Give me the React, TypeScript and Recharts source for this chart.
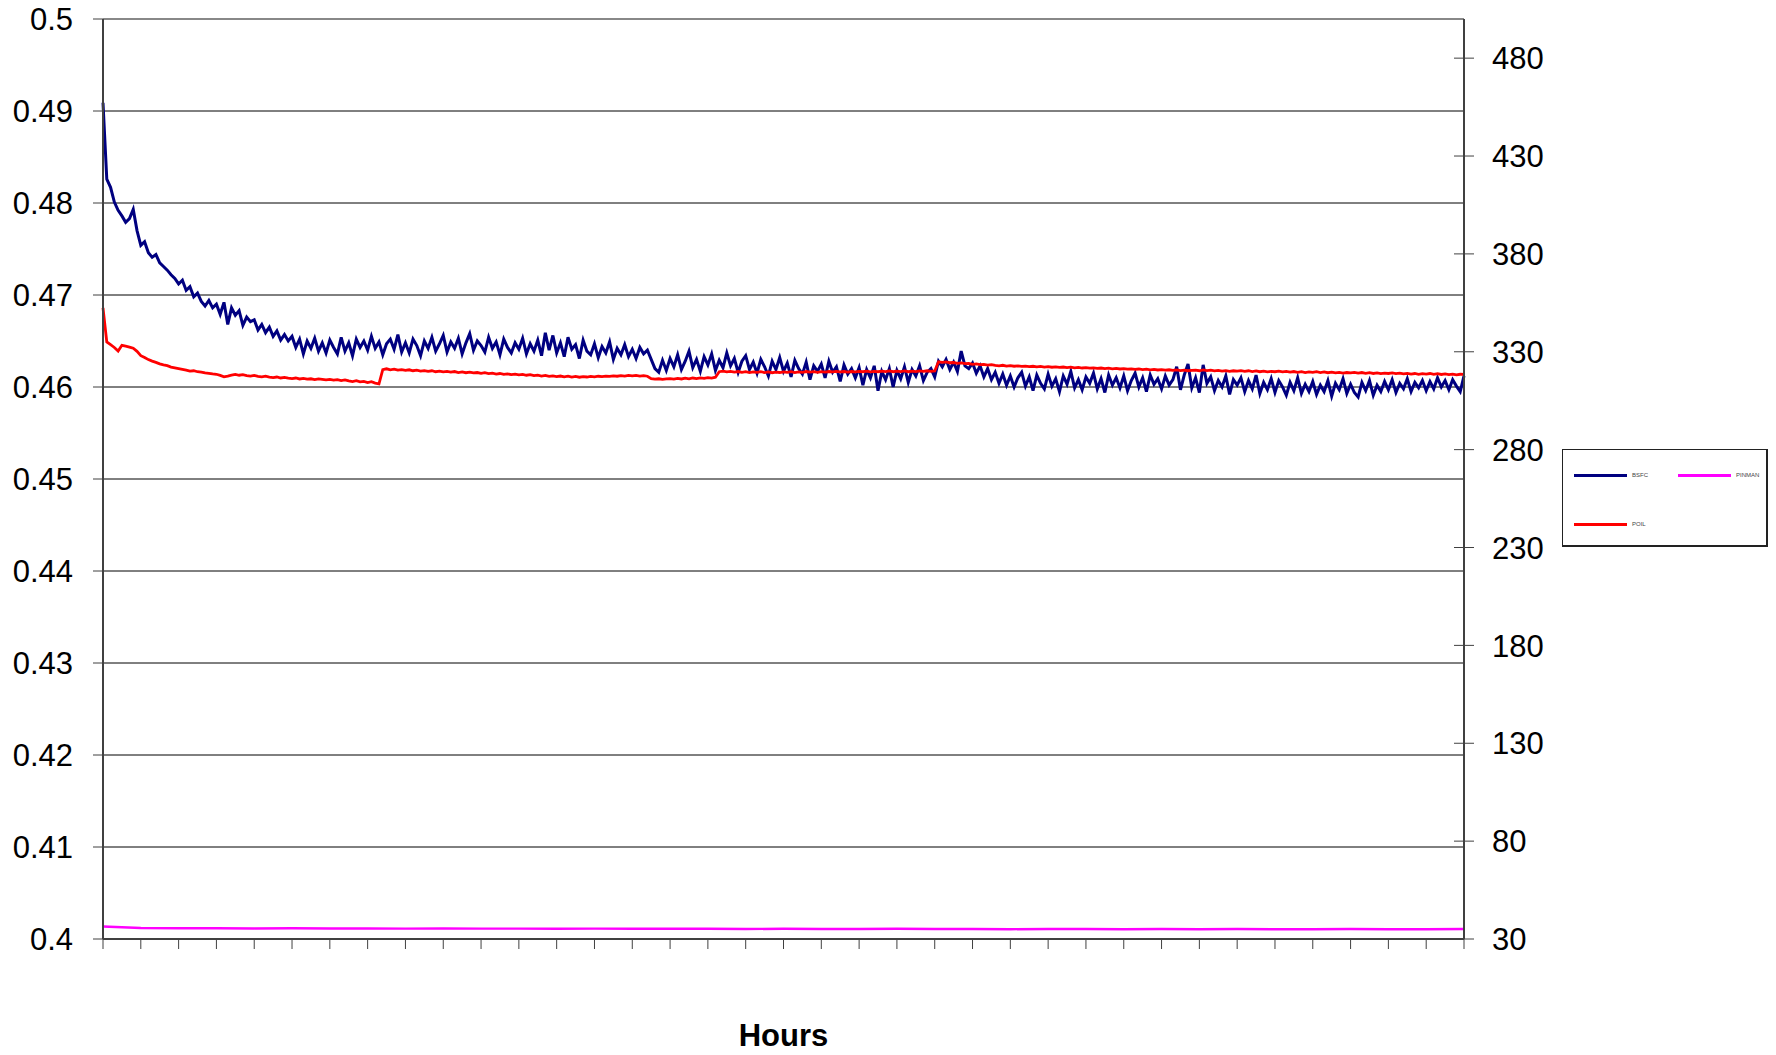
import React from 'react';
import { LineChart, Line, XAxis, YAxis, CartesianGrid, ReferenceLine, Label } from 'recharts';

// Hours 0..360, one reading per hour
const bsfc: number[] = [
  0.4909, 0.4826, 0.4817, 0.4801, 0.4792, 0.4786, 0.4779, 0.4783, 0.4793, 0.4770,
  0.4754, 0.4758, 0.4746, 0.4741, 0.4744, 0.4735, 0.4731, 0.4727, 0.4722, 0.4718,
  0.4712, 0.4716, 0.4705, 0.4709, 0.4698, 0.4702, 0.4693, 0.4688, 0.4694, 0.4686,
  0.4690, 0.4679, 0.4692, 0.4668, 0.4686, 0.4678, 0.4683, 0.4667, 0.4676, 0.4671,
  0.4673, 0.4662, 0.4668, 0.4659, 0.4665, 0.4655, 0.4661, 0.4651, 0.4657, 0.4650,
  0.4655, 0.4643, 0.4652, 0.4636, 0.4650, 0.4642, 0.4653, 0.4639, 0.4648, 0.4637,
  0.4651, 0.4643, 0.4636, 0.4654, 0.4639, 0.4648, 0.4634, 0.4652, 0.4643, 0.4650,
  0.4640, 0.4655, 0.4642, 0.4649, 0.4635, 0.4647, 0.4652, 0.4641, 0.4657, 0.4638,
  0.4648, 0.4637, 0.4652, 0.4645, 0.4634, 0.4650, 0.4642, 0.4654, 0.4639, 0.4647,
  0.4656, 0.4638, 0.4649, 0.4642, 0.4653, 0.4636, 0.4648, 0.4658, 0.4640, 0.4650,
  0.4645, 0.4638, 0.4654, 0.4642, 0.4649, 0.4635, 0.4652, 0.4643, 0.4637, 0.4648,
  0.4641, 0.4653, 0.4636, 0.4647, 0.4639, 0.4651, 0.4634, 0.4659, 0.4640, 0.4656,
  0.4637, 0.4648, 0.4633, 0.4654, 0.4641, 0.4646, 0.4631, 0.4651, 0.4639, 0.4635,
  0.4647, 0.4632, 0.4644, 0.4637, 0.4649, 0.4630, 0.4642, 0.4635, 0.4646, 0.4633,
  0.4641, 0.4631, 0.4643, 0.4636, 0.4640, 0.4630, 0.4620, 0.4616, 0.4629, 0.4618,
  0.4631, 0.4622, 0.4635, 0.4619, 0.4628, 0.4639, 0.4621, 0.4630, 0.4617, 0.4633,
  0.4624, 0.4636, 0.4618, 0.4629, 0.4621, 0.4637, 0.4623, 0.4631, 0.4616, 0.4628,
  0.4634, 0.4619, 0.4627, 0.4615, 0.4630, 0.4622, 0.4612, 0.4628, 0.4619, 0.4632,
  0.4617, 0.4626, 0.4611, 0.4629, 0.4620, 0.4614, 0.4627, 0.4608, 0.4623, 0.4617,
  0.4625, 0.4610, 0.4628, 0.4616, 0.4622, 0.4606, 0.4624, 0.4614, 0.4620, 0.4610,
  0.4621, 0.4602, 0.4619, 0.4610, 0.4623, 0.4596, 0.4617, 0.4608, 0.4620, 0.4600,
  0.4618, 0.4609, 0.4622, 0.4605, 0.4619, 0.4612, 0.4623, 0.4607, 0.4616, 0.4620,
  0.4611, 0.4628, 0.4622, 0.4630, 0.4619, 0.4627, 0.4617, 0.4639, 0.4623, 0.4620,
  0.4626, 0.4615, 0.4623, 0.4611, 0.4620, 0.4608, 0.4616, 0.4604, 0.4614, 0.4602,
  0.4612, 0.4600, 0.4610, 0.4616, 0.4601, 0.4611, 0.4596, 0.4613, 0.4604, 0.4598,
  0.4614, 0.4601, 0.4609, 0.4595, 0.4612, 0.4603, 0.4617, 0.4599, 0.4608, 0.4597,
  0.4611, 0.4604, 0.4615, 0.4598, 0.4609, 0.4594, 0.4613, 0.4602, 0.4610, 0.4599,
  0.4612, 0.4596, 0.4607, 0.4615, 0.4600, 0.4610, 0.4595, 0.4613, 0.4603, 0.4609,
  0.4598, 0.4612, 0.4602, 0.4608, 0.4622, 0.4597, 0.4613, 0.4625, 0.4599, 0.4610,
  0.4594, 0.4624, 0.4604, 0.4611, 0.4596, 0.4607, 0.4600, 0.4612, 0.4592, 0.4608,
  0.4602, 0.4610, 0.4595, 0.4607, 0.4598, 0.4613, 0.4593, 0.4605, 0.4597, 0.4609,
  0.4594, 0.4607, 0.4600, 0.4591, 0.4605, 0.4596, 0.4610, 0.4593, 0.4603, 0.4595,
  0.4606, 0.4592, 0.4602, 0.4595, 0.4607, 0.4590, 0.4604, 0.4597, 0.4609, 0.4593,
  0.4603, 0.4594, 0.4589, 0.4605, 0.4596, 0.4607, 0.4591, 0.4602, 0.4595, 0.4606,
  0.4597, 0.4608, 0.4594, 0.4604, 0.4598, 0.4609, 0.4595, 0.4605, 0.4599, 0.4607,
  0.4596, 0.4606, 0.4598, 0.4610, 0.4600, 0.4607, 0.4597, 0.4608, 0.4601, 0.4595,
  0.4612,
];

const poil: number[] = [
  352.4, 335.0, 333.6, 332.2, 330.4, 333.3, 332.9, 332.4, 331.8, 330.2,
  328.0, 327.1, 326.0, 325.2, 324.6, 323.8, 323.3, 322.9, 322.2, 321.8,
  321.4, 321.0, 320.6, 320.1, 320.3, 319.8, 319.6, 319.2, 319.0, 318.7,
  318.5, 317.9, 317.2, 317.6, 318.1, 318.4, 318.0, 318.3, 317.8, 317.6,
  317.9, 317.4, 317.2, 317.5, 317.0, 316.8, 317.1, 316.6, 316.9, 316.5,
  316.3, 316.6, 316.1, 316.4, 316.0, 316.2, 315.8, 316.1, 315.9, 315.6,
  315.9, 315.5, 315.8, 315.3, 315.6, 315.1, 314.8, 315.2, 314.6, 314.9,
  314.3, 314.7, 314.0, 313.6, 320.9, 321.3, 320.8, 321.1, 320.6, 320.9,
  320.5, 320.8, 320.3, 320.6, 320.1, 320.4, 320.0, 320.3, 319.8, 320.1,
  319.7, 320.0, 319.6, 319.9, 319.4, 319.7, 319.3, 319.6, 319.2, 319.4,
  319.0, 319.3, 318.8, 319.1, 318.6, 318.9, 318.5, 318.7, 318.3, 318.6,
  318.2, 318.4, 318.0, 318.3, 317.8, 318.1, 317.6, 317.9, 317.4, 317.7,
  317.3, 317.6, 317.2, 317.5, 317.1, 317.4, 317.0, 317.3, 317.1, 317.4,
  317.2, 317.5, 317.3, 317.6, 317.4, 317.7, 317.5, 317.8, 317.6, 317.9,
  317.7, 317.9, 317.6, 317.8, 317.5, 316.3, 316.0, 316.2, 315.9, 316.1,
  316.3, 316.0, 316.4, 316.1, 316.5, 316.2, 316.6, 316.3, 316.7, 316.4,
  316.8, 316.5, 317.0, 319.8, 320.1, 319.7, 320.0, 319.6, 319.9, 319.5,
  319.8, 319.4, 319.7, 319.5, 319.8, 319.4, 319.7, 319.3, 319.6, 319.4,
  319.7, 319.5, 319.8, 319.4, 319.7, 319.5, 319.9, 319.6, 319.8, 319.5,
  319.8, 319.6, 319.9, 319.7, 320.0, 319.7, 319.9, 319.6, 319.9, 319.7,
  320.0, 319.8, 320.1, 319.7, 320.0, 319.8, 320.1, 319.9, 320.2, 319.8,
  320.1, 319.9, 320.2, 319.8, 320.1, 319.9, 320.2, 320.0, 320.3, 320.0,
  320.2, 324.9, 324.6, 324.8, 324.4, 324.5, 324.1, 324.3, 323.9, 324.0,
  323.6, 323.8, 323.4, 323.6, 323.2, 323.4, 323.0, 322.8, 323.1, 322.7,
  322.9, 322.6, 322.8, 322.5, 322.7, 322.4, 322.6, 322.3, 322.5, 322.2,
  322.4, 322.1, 322.3, 322.0, 322.2, 321.9, 322.1, 321.8, 322.0, 321.7,
  321.9, 321.6, 321.8, 321.5, 321.7, 321.4, 321.6, 321.3, 321.5, 321.2,
  321.4, 321.1, 321.3, 321.0, 321.2, 320.9, 321.1, 320.8, 321.0, 320.7,
  320.9, 320.6, 320.8, 320.5, 320.7, 320.4, 320.6, 320.3, 320.5, 320.6,
  320.3, 320.7, 320.4, 320.6, 320.2, 320.5, 320.1, 320.4, 320.0, 320.3,
  320.1, 320.4, 320.0, 320.3, 319.9, 320.2, 319.8, 320.1, 319.7, 320.0,
  319.8, 320.1, 319.7, 320.0, 319.6, 319.9, 319.5, 319.8, 319.4, 319.7,
  319.5, 319.8, 319.4, 319.7, 319.3, 319.6, 319.2, 319.5, 319.1, 319.4,
  319.2, 319.5, 319.1, 319.4, 319.0, 319.3, 318.9, 319.2, 318.8, 319.1,
  318.9, 319.2, 318.8, 319.1, 318.7, 319.0, 318.6, 318.9, 318.5, 318.8,
  318.6, 318.9, 318.5, 318.8, 318.4, 318.7, 318.3, 318.6, 318.2, 318.5,
  318.4,
];

// PINMAN sampled every 10 hours
const pinman: number[] = [
  36.4, 35.6, 35.5, 35.5, 35.4, 35.5, 35.4, 35.4, 35.3, 35.4,
  35.3, 35.3, 35.2, 35.3, 35.2, 35.2, 35.2, 35.1, 35.2, 35.1,
  35.1, 35.2, 35.1, 35.1, 35.0, 35.1, 35.1, 35.0, 35.1, 35.0,
  35.1, 35.0, 35.0, 35.1, 35.0, 35.0, 35.1,
];

const xTicks: number[] = [
  0, 10, 20, 30, 40, 50, 60, 70, 80, 90, 100, 110, 120, 130, 140, 150, 160, 170, 180,
  190, 200, 210, 220, 230, 240, 250, 260, 270, 280, 290, 300, 310, 320, 330, 340, 350, 360,
];
const leftTicks: number[] = [0.4, 0.41, 0.42, 0.43, 0.44, 0.45, 0.46, 0.47, 0.48, 0.49, 0.5];
const leftTickLabels: string[] = ['0.4', '0.41', '0.42', '0.43', '0.44', '0.45', '0.46', '0.47', '0.48', '0.49', '0.5'];
const rightTicks: number[] = [30, 80, 130, 180, 230, 280, 330, 380, 430, 480];

const seriesNames = { bsfc: 'BSFC', pinman: 'PINMAN', poil: 'POIL' };
const colors = { bsfc: '#000080', pinman: '#FF00FF', poil: '#FF0000' };

const rows = bsfc.map((v, h) => ({
  h,
  bsfc: v,
  poil: poil[h],
  pinman: h % 10 === 0 ? pinman[h / 10] : null,
}));

const FONT = 'Arial, "Liberation Sans", sans-serif';

const LeftTick = (props: any) => {
  const { x, y, index } = props;
  return (
    <text x={x} y={y} dy="0.36em" textAnchor="end" fontSize={31} fontFamily={FONT} fill="#000">
      {leftTickLabels[index]}
    </text>
  );
};

const RightTick = (props: any) => {
  const { x, y, payload } = props;
  return (
    <g>
      <line x1={x - 38} x2={x - 28} y1={y} y2={y} stroke="#404040" strokeWidth={1} />
      <text x={x} y={y} dy="0.36em" textAnchor="start" fontSize={31} fontFamily={FONT} fill="#000">
        {payload.value}
      </text>
    </g>
  );
};

const LegendItem = ({ color, label }: { color: string; label: string }) => (
  <div style={{ display: 'flex', alignItems: 'center', width: 104 }}>
    <div style={{ width: 53, height: 3, background: color, marginLeft: 11 }} />
    <span style={{ fontSize: 6, color: '#444', marginLeft: 5, fontFamily: FONT }}>{label}</span>
  </div>
);

export default function App() {
  return (
    <div style={{ position: 'absolute', left: 0, top: 0, width: 1776, height: 1055, background: '#fff', fontFamily: FONT }}>
      <LineChart width={1776} height={1055} data={rows} margin={{ top: 19, right: 0, bottom: 0, left: 0 }}>
        <CartesianGrid yAxisId="left" vertical={false} stroke="#000" strokeWidth={1} />
        <XAxis
          dataKey="h"
          type="number"
          domain={[0, 360]}
          ticks={xTicks}
          interval={0}
          height={116}
          tickSize={10}
          tickFormatter={() => ''}
          axisLine={{ stroke: '#404040', strokeWidth: 2 }}
          tickLine={{ stroke: '#404040', strokeWidth: 1 }}
        >
          <Label value="Hours" position="insideBottom" offset={9} fontSize={31} fontWeight="bold" fontFamily={FONT} fill="#000" />
        </XAxis>
        <YAxis
          yAxisId="left"
          orientation="left"
          width={103}
          domain={[0.4, 0.5]}
          ticks={leftTicks}
          interval={0}
          tickSize={10}
          tickMargin={20}
          tick={<LeftTick />}
          axisLine={{ stroke: '#404040', strokeWidth: 2 }}
          tickLine={{ stroke: '#404040', strokeWidth: 1 }}
          allowDataOverflow
        />
        <YAxis
          yAxisId="right"
          orientation="right"
          width={312}
          domain={[30, 500]}
          ticks={rightTicks}
          interval={0}
          tickSize={10}
          tickMargin={18}
          tick={<RightTick />}
          axisLine={{ stroke: '#404040', strokeWidth: 2 }}
          tickLine={{ stroke: '#404040', strokeWidth: 1 }}
          allowDataOverflow
        />
        <ReferenceLine yAxisId="left" y={0.5} stroke="#888" strokeWidth={2} />
        <Line
          yAxisId="left"
          type="linear"
          dataKey="bsfc"
          name={seriesNames.bsfc}
          stroke={colors.bsfc}
          strokeWidth={3}
          dot={false}
          isAnimationActive={false}
        />
        <Line
          yAxisId="right"
          type="linear"
          dataKey="pinman"
          name={seriesNames.pinman}
          stroke={colors.pinman}
          strokeWidth={2.4}
          dot={false}
          connectNulls
          isAnimationActive={false}
        />
        <Line
          yAxisId="right"
          type="linear"
          dataKey="poil"
          name={seriesNames.poil}
          stroke={colors.poil}
          strokeWidth={2.8}
          dot={false}
          isAnimationActive={false}
        />
      </LineChart>
      <div
        style={{
          position: 'absolute',
          left: 1562,
          top: 449,
          width: 206,
          height: 98,
          border: '1px solid #222',
          borderRightWidth: 2,
          borderBottomWidth: 2,
          boxSizing: 'border-box',
          background: '#fff',
        }}
      >
        <div style={{ display: 'flex', position: 'absolute', top: 22 }}>
          <LegendItem color={colors.bsfc} label={seriesNames.bsfc} />
          <LegendItem color={colors.pinman} label={seriesNames.pinman} />
        </div>
        <div style={{ display: 'flex', position: 'absolute', top: 71 }}>
          <LegendItem color={colors.poil} label={seriesNames.poil} />
        </div>
      </div>
    </div>
  );
}
